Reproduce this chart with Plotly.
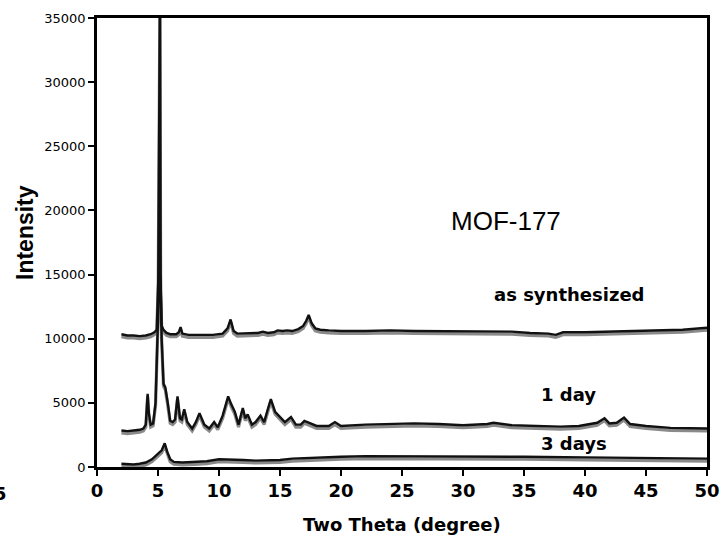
import plotly.graph_objects as go

# ---- data (two theta in degrees, intensity in counts) ----
as_synth_x = [2.0, 2.5, 3.0, 3.5, 4.0, 4.4, 4.7, 4.9, 5.02, 5.1, 5.16, 5.22, 5.3, 5.45, 5.7, 6.0,
              6.5, 6.7, 6.85, 7.0, 7.5, 8.5, 9.5, 10.3, 10.7, 10.95, 11.2, 11.5, 12.5, 13.2,
              13.6, 14.0, 14.5, 14.8, 15.2, 15.6, 16.0, 16.5, 16.9, 17.15, 17.35, 17.6, 17.9,
              18.3, 19.0, 20.0, 22.0, 24.0, 26.0, 28.0, 30.0, 32.0, 34.0, 35.5, 36.2, 37.0,
              37.6, 38.2, 40.0, 42.0, 44.0, 46.0, 48.0, 50.0]
as_synth_y = [10350, 10250, 10250, 10200, 10250, 10350, 10500, 10700, 14500, 37000, 37000, 14000,
              11000, 10700, 10450, 10350, 10350, 10500, 10900, 10400, 10300, 10300, 10300, 10400,
              10800, 11500, 10600, 10400, 10400, 10450, 10550, 10450, 10500, 10650, 10600, 10650,
              10600, 10750, 11000, 11400, 11850, 11200, 10800, 10700, 10650, 10600, 10600, 10650,
              10600, 10600, 10600, 10550, 10550, 10450, 10450, 10400, 10300, 10500, 10500, 10550,
              10600, 10650, 10700, 10850]

one_day_x = [2.0, 2.5, 3.0, 3.5, 3.8, 4.0, 4.15, 4.25, 4.4, 4.6, 4.8, 4.95, 5.1, 5.2, 5.3, 5.45,
             5.6, 5.8, 6.0, 6.2, 6.4, 6.6, 6.8, 6.95, 7.15, 7.4, 7.8, 8.1, 8.4, 8.8, 9.2, 9.6,
             9.9, 10.3, 10.75, 11.0, 11.3, 11.6, 11.95, 12.15, 12.35, 12.7, 13.0, 13.4, 13.7,
             14.0, 14.25, 14.6, 15.0, 15.4, 15.9, 16.3, 16.7, 17.0, 17.5, 18.0, 18.5, 19.0, 19.5,
             20.0, 22.0, 24.0, 26.0, 28.0, 30.0, 32.0, 32.5, 34.0, 36.0, 38.0, 39.5, 40.5, 41.0,
             41.6, 42.0, 42.6, 43.2, 43.7, 45.0, 47.0, 50.0]
one_day_y = [2850, 2800, 2850, 2900, 3000, 3300, 5700, 4200, 3300, 3400, 5000, 9500, 14800, 14800,
             10000, 6500, 6200, 5000, 3600, 3500, 3700, 5500, 3800, 3700, 4500, 3500, 3000, 3500,
             4200, 3300, 3000, 3500, 3100, 4000, 5500, 4900, 4300, 3300, 4600, 3800, 4100, 3300,
             3500, 4000, 3500, 4500, 5300, 4300, 3900, 3500, 3900, 3300, 3300, 3600, 3400, 3200,
             3200, 3200, 3500, 3200, 3300, 3350, 3400, 3350, 3250, 3350, 3450, 3250, 3200, 3150,
             3200, 3350, 3450, 3800, 3400, 3450, 3850, 3350, 3200, 3050, 3000]

three_day_x = [2.0, 2.5, 3.0, 3.5, 4.0, 4.5, 5.0, 5.3, 5.55, 5.75, 6.0, 6.3, 7.0, 8.0, 9.0, 10.0,
               11.0, 12.0, 13.0, 14.0, 15.0, 16.0, 18.0, 20.0, 22.0, 25.0, 30.0, 35.0, 40.0,
               45.0, 50.0]
three_day_y = [250, 200, 200, 250, 350, 600, 1000, 1300, 1850, 1200, 600, 400, 350, 400, 450, 600,
               600, 550, 500, 500, 550, 650, 750, 800, 850, 850, 850, 800, 750, 700, 650]

labels = ["as synthesized", "1 day", "3 days"]
x_ticks = [0, 5, 10, 15, 20, 25, 30, 35, 40, 45, 50]
y_ticks = [0, 5000, 10000, 15000, 20000, 25000, 30000, 35000]

series = [(as_synth_x, as_synth_y), (one_day_x, one_day_y), (three_day_x, three_day_y)]

fig = go.Figure()
# grey shadow copies on a hidden axis whose range is shifted so they sit a little lower
for xs, ys in series:
    fig.add_trace(go.Scatter(x=xs, y=ys, mode="lines", yaxis="y",
                             line=dict(color="#8a8a8a", width=3.2), showlegend=False,
                             hoverinfo="skip"))
# black traces on the visible (overlaid) axis, drawn on top
for (xs, ys), name in zip(series, labels):
    fig.add_trace(go.Scatter(x=xs, y=ys, mode="lines", name=name, yaxis="y2",
                             line=dict(color="#111111", width=2.4), showlegend=False))

W, H = 721, 536
L, R, T, B = 97, 14, 18, 69
pw, ph = W - L - R, H - T - B
shift = 190

fig.update_layout(
    width=W, height=H,
    margin=dict(l=L, r=R, t=T, b=B, autoexpand=False),
    paper_bgcolor="white", plot_bgcolor="white",
    xaxis=dict(range=[0, 50], tickvals=x_ticks, ticks="outside", ticklen=6, tickwidth=2,
               tickcolor="black", showline=True, linecolor="black", linewidth=2.5,
               mirror=True, showgrid=False, zeroline=False, automargin=False,
               tickfont=dict(family="DejaVu Sans", size=18, color="black", weight="bold")),
    yaxis=dict(range=[shift, 35000 + shift], visible=False, showgrid=False, zeroline=False,
               automargin=False),
    yaxis2=dict(range=[0, 35000], overlaying="y", side="left", anchor="x",
                tickvals=y_ticks, tickformat="d", ticks="outside", ticklen=6, tickwidth=2,
                tickcolor="black", showline=True, linecolor="black", linewidth=2.5,
                mirror=True, showgrid=False, zeroline=False, automargin=False,
                tickfont=dict(family="DejaVu Sans", size=13, color="black")),
)

bold = "DejaVu Sans"
notes = [
    ("MOF-177", 506, 221, "Liberation Sans", 26, False, 0),
    ("as synthesized", 569, 294, bold, 18, True, 0),
    ("1 day", 568, 394, bold, 18, True, 0),
    ("3 days", 574, 443, bold, 18, True, 0),
    ("5", 0, 493, bold, 18, True, 0),
    ("Two Theta (degree)", 402, 524, bold, 18, True, 0),
    ("Intensity", 25, 233, "Liberation Sans", 23, True, -90),
]
for text, px, py, fam, size, is_bold, ang in notes:
    fig.add_annotation(text=f"<b>{text}</b>" if is_bold else text,
                       x=(px - L) / pw, y=1 - (py - T) / ph, xref="paper", yref="paper",
                       xanchor="center", yanchor="middle", showarrow=False, textangle=ang,
                       font=dict(family=fam, size=size, color="black"))

fig.write_html("out.html")
